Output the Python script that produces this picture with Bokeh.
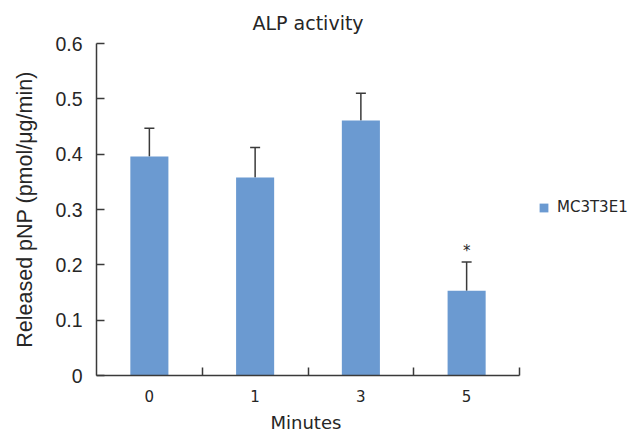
from bokeh.plotting import figure
from bokeh.models import ColumnDataSource, FixedTicker, Whisker, TeeHead, Legend, LegendItem, Title
from bokeh.core.properties import value
from bokeh.embed import file_html
from bokeh.resources import INLINE

minutes = ["0", "1", "3", "5"]
release = [0.396, 0.358, 0.461, 0.153]
sd = [0.051, 0.054, 0.049, 0.052]
marks = ["", "", "", "*"]
series_name = "MC3T3E1"
y_ticks = [0, 0.1, 0.2, 0.3, 0.4, 0.5, 0.6]

W, H = 633, 438
LEFT, TOP, BOTTOM = 96, 43, 62
AXIS_PX = 423  # pixel length of the drawn x axis

n = len(minutes)
xs = [i + 0.5 for i in range(n)]
tops = [v + e for v, e in zip(release, sd)]
src = ColumnDataSource(dict(x=xs, v=release, top=tops, lab=marks))

frame_w = W - LEFT
x_end = n * frame_w / AXIS_PX

BAR = "#6b9ad1"
INK = "#3a3a3a"
TXT = "#262626"

p = figure(width=W, height=H, x_range=(0, x_end), y_range=(0, 0.6),
           output_backend="svg", toolbar_location=None,
           min_border_left=LEFT, min_border_right=0, min_border_top=TOP, min_border_bottom=BOTTOM)
p.outline_line_color = None
p.grid.visible = False

r = p.vbar(x="x", top="v", width=0.36, source=src, fill_color=BAR, line_color=None)
w = Whisker(base="x", lower="v", upper="top", source=src, dimension="height",
            line_color=INK, line_width=1.5,
            upper_head=TeeHead(size=10, line_color=INK, line_width=1.5), lower_head=None)
p.add_layout(w)
p.text(x="x", y="top", text="lab", source=src, text_align="center", text_baseline="bottom",
       y_offset=-2, text_font=value("DejaVu Sans"), text_font_size="15px", text_color=TXT)

p.title.text = "ALP activity"
p.title.align = "left"
p.title.offset = 156
p.title.text_font = "DejaVu Sans"
p.title.text_font_size = "19px"
p.title.text_font_style = "normal"
p.title.text_color = TXT
p.title.standoff = 19

xa = p.xaxis[0]
xa.bounds = (0, n)
xa.ticker = FixedTicker(ticks=xs, minor_ticks=list(range(1, n + 1)))
xa.major_label_overrides = {x: m for x, m in zip(xs, minutes)}
xa.major_tick_line_color = None
xa.minor_tick_in = 8
xa.minor_tick_out = 0
xa.minor_tick_line_color = INK
xa.minor_tick_line_width = 1.5
xa.axis_line_color = INK
xa.axis_line_width = 1.5
xa.major_label_text_font = "DejaVu Sans"
xa.major_label_text_font_size = "15px"
xa.major_label_text_color = TXT
xa.major_label_standoff = 8

xlabel = Title(text="Minutes", align="left", offset=174, text_font="DejaVu Sans",
               text_font_size="18px", text_font_style="normal", text_color=TXT, standoff=11)
p.add_layout(xlabel, "below")

ya = p.yaxis[0]
ya.ticker = FixedTicker(ticks=y_ticks)
ya.major_label_overrides = {0: "0"}
ya.major_tick_in = 8
ya.major_tick_out = 0
ya.minor_tick_line_color = None
ya.major_tick_line_color = INK
ya.major_tick_line_width = 1.5
ya.axis_line_color = INK
ya.axis_line_width = 1.5
ya.major_label_text_font = "Liberation Sans"
ya.major_label_text_font_size = "19.5px"
ya.major_label_text_color = TXT
ya.major_label_standoff = 14
ya.axis_label = "Released pNP (pmol/\u03bcg/min)"
ya.axis_label_text_font = "Liberation Sans"
ya.axis_label_text_font_size = "21.5px"
ya.axis_label_text_font_style = "normal"
ya.axis_label_text_color = TXT
ya.axis_label_standoff = 15

legend = Legend(items=[LegendItem(label=series_name, renderers=[r])], location=(442, 159),
                label_text_font="DejaVu Sans", label_text_font_size="15px",
                label_text_color=TXT, glyph_width=11, glyph_height=11,
                border_line_color=None, background_fill_alpha=0, margin=0, padding=4,
                label_standoff=8)
p.add_layout(legend)

open("out.html", "w").write(file_html(p, INLINE))
